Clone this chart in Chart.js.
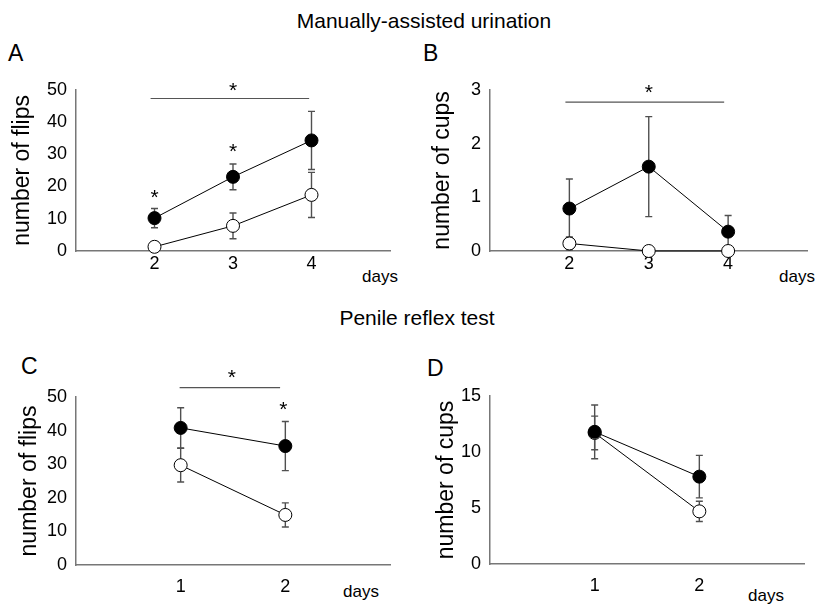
<!DOCTYPE html>
<html>
<head>
<meta charset="utf-8">
<script src="https://cdn.jsdelivr.net/npm/chart.js@4.4.0/dist/chart.umd.min.js"></script>
<style>
  body { margin: 0; background: #fff; }
  #wrap { position: relative; width: 815px; height: 605px; overflow: hidden; font-family: 'Liberation Sans', Arial, sans-serif; color: #000; }
  #wrap canvas { position: absolute; }
  .txt { position: absolute; line-height: 1; white-space: nowrap; }
</style>
</head>
<body>
<div id="wrap">
  <div class="txt" style="left:424px; top:10px; font-size:21px; transform:translateX(-50%)">Manually-assisted urination</div>
  <div class="txt" style="left:417px; top:307px; font-size:21px; transform:translateX(-50%)">Penile reflex test</div>
  <div class="txt" style="left:8px; top:42px; font-size:23px">A</div>
  <div class="txt" style="left:423px; top:42px; font-size:23px">B</div>
  <div class="txt" style="left:21px; top:355px; font-size:23px">C</div>
  <div class="txt" style="left:427px; top:357px; font-size:23px">D</div>
  <div class="txt" style="left:362px; top:268px; font-size:17px">days</div>
  <div class="txt" style="left:779px; top:268px; font-size:17px">days</div>
  <div class="txt" style="left:343px; top:583px; font-size:17px">days</div>
  <div class="txt" style="left:748px; top:587px; font-size:17px">days</div>
  <canvas id="chartA" width="405" height="230" style="left:0; top:70px"></canvas>
  <canvas id="chartB" width="410" height="230" style="left:405px; top:70px"></canvas>
  <canvas id="chartC" width="405" height="255" style="left:0; top:350px"></canvas>
  <canvas id="chartD" width="410" height="255" style="left:405px; top:350px"></canvas>
</div>
<script>
// A: manually-assisted urination, flips
const aDays = [2, 3, 4];
const aFilled = [10.2, 23.0, 34.3];
const aFilledErr = [3.0, 4.0, 9.0];
const aOpen = [1.3, 7.8, 17.4];
const aOpenErr = [0.8, 4.0, 7.0];
const aSigLine = [1.95, 3.97, 47.3];
const aStars = [[3, 51.6], [2, 18.2], [3, 32.6]];

// B: manually-assisted urination, cups
const bDays = [2, 3, 4];
const bFilled = [0.79, 1.57, 0.36];
const bFilledErr = [0.55, 0.93, 0.30];
const bOpen = [0.14, 0, 0];
const bOpenErr = [0.12, 0, 0];
const bSigLine = [1.95, 3.95, 2.77];
const bStars = [[3, 3.06]];

// C: penile reflex test, flips
const cDays = [1, 2];
const cFilled = [40.8, 35.4];
const cFilledErr = [6.0, 7.3];
const cOpen = [29.7, 14.9];
const cOpenErr = [5.0, 3.6];
const cSigLine = [0.99, 1.95, 52.8];
const cStars = [[1.49, 57.4], [1.98, 47.8]];

// D: penile reflex test, cups
const dDays = [1, 2];
const dFilled = [11.8, 7.8];
const dFilledErr = [2.4, 1.9];
const dOpen = [11.7, 4.7];
const dOpenErr = [1.5, 0.9];
const dSigLine = null;
const dStars = [];

const FONT = "'Liberation Sans', Arial, sans-serif";

const errorBars = {
  id: 'errorBars',
  beforeDatasetsDraw(chart) {
    const { ctx, scales: { x, y } } = chart;
    ctx.save();
    ctx.strokeStyle = '#505050';
    ctx.lineWidth = 1.4;
    chart.data.datasets.forEach(ds => {
      ds.data.forEach((p, i) => {
        const e = ds.errors[i];
        if (!e) return;
        const px = x.getPixelForValue(p.x);
        const top = y.getPixelForValue(p.y + e);
        const bot = y.getPixelForValue(p.y - e);
        ctx.beginPath();
        ctx.moveTo(px, top); ctx.lineTo(px, bot);
        ctx.moveTo(px - 3.5, top); ctx.lineTo(px + 3.5, top);
        ctx.moveTo(px - 3.5, bot); ctx.lineTo(px + 3.5, bot);
        ctx.stroke();
      });
    });
    ctx.restore();
  }
};

function annotations(sigLine, stars) {
  return {
    id: 'sig',
    afterDatasetsDraw(chart) {
      const { ctx, scales: { x, y } } = chart;
      ctx.save();
      if (sigLine) {
        ctx.strokeStyle = '#555';
        ctx.lineWidth = 1.2;
        ctx.beginPath();
        ctx.moveTo(x.getPixelForValue(sigLine[0]), y.getPixelForValue(sigLine[2]));
        ctx.lineTo(x.getPixelForValue(sigLine[1]), y.getPixelForValue(sigLine[2]));
        ctx.stroke();
      }
      ctx.fillStyle = '#000';
      ctx.font = '21px ' + FONT;
      ctx.textAlign = 'center';
      ctx.textBaseline = 'alphabetic';
      stars.forEach(s => {
        ctx.fillText('*', x.getPixelForValue(s[0]), y.getPixelForValue(s[1]) + 12);
      });
      ctx.restore();
    }
  };
}

function makeChart(id, o) {
  const pts = (xs, ys) => xs.map((v, i) => ({ x: v, y: ys[i] }));
  new Chart(document.getElementById(id), {
    type: 'line',
    data: {
      datasets: [
        {
          data: pts(o.days, o.filled), errors: o.filledErr, clip: false,
          borderColor: '#000', borderWidth: 1, backgroundColor: '#000',
          pointRadius: 6.5, pointBorderWidth: 1, pointBorderColor: '#000', pointBackgroundColor: '#000'
        },
        {
          data: pts(o.days, o.open), errors: o.openErr, clip: false,
          borderColor: '#000', borderWidth: 1, backgroundColor: '#fff',
          pointRadius: 6.5, pointBorderWidth: 1, pointBorderColor: '#000', pointBackgroundColor: '#fff'
        }
      ]
    },
    options: {
      responsive: false,
      animation: false,
      events: [],
      layout: { padding: o.pad },
      plugins: { legend: { display: false }, tooltip: { enabled: false } },
      scales: {
        x: {
          type: 'linear', min: o.xMin, max: o.xMax,
          afterBuildTicks: s => { s.ticks = o.days.map(v => ({ value: v })); },
          afterFit: s => { s.height = o.xHeight; },
          grid: { display: false, drawTicks: false },
          border: { display: true, color: '#777', width: 1.5 },
          ticks: { color: '#000', padding: o.xPad, font: { family: FONT, size: 18 } }
        },
        y: {
          min: 0, max: o.yMax,
          ticks: { stepSize: o.yStep, color: '#000', padding: 9, font: { family: FONT, size: 18 } },
          afterFit: s => { s.width = o.yWidth; },
          grid: { display: false, drawTicks: false },
          border: { display: true, color: '#777', width: 1.5 },
          title: { display: true, text: o.yTitle, color: '#000', padding: { top: o.titlePad, bottom: 0 }, font: { family: FONT, size: 23 } }
        }
      }
    },
    plugins: [errorBars, annotations(o.sig, o.stars)]
  });
}

makeChart('chartA', { days: aDays, filled: aFilled, filledErr: aFilledErr, open: aOpen, openErr: aOpenErr,
  sig: aSigLine, stars: aStars, xMin: 1, xMax: 5, yMax: 50, yStep: 10, yTitle: 'number of flips',
  pad: { top: 13, right: 15 }, yWidth: 76, xHeight: 49, xPad: 2, titlePad: 9 });

makeChart('chartB', { days: bDays, filled: bFilled, filledErr: bFilledErr, open: bOpen, openErr: bOpenErr,
  sig: bSigLine, stars: bStars, xMin: 1, xMax: 5, yMax: 3, yStep: 1, yTitle: 'number of cups',
  pad: { top: 13, right: 2 }, yWidth: 85, xHeight: 49, xPad: 2, titlePad: 24 });

makeChart('chartC', { days: cDays, filled: cFilled, filledErr: cFilledErr, open: cOpen, openErr: cOpenErr,
  sig: cSigLine, stars: cStars, xMin: 0, xMax: 3, yMax: 50, yStep: 10, yTitle: 'number of flips',
  pad: { top: 47, right: 15 }, yWidth: 76, xHeight: 40, xPad: 11, titlePad: 16 });

makeChart('chartD', { days: dDays, filled: dFilled, filledErr: dFilledErr, open: dOpen, openErr: dOpenErr,
  sig: dSigLine, stars: dStars, xMin: 0, xMax: 3, yMax: 15, yStep: 5, yTitle: 'number of cups',
  pad: { top: 46, right: 11 }, yWidth: 85, xHeight: 41, xPad: 11, titlePad: 28 });
</script>
</body>
</html>
